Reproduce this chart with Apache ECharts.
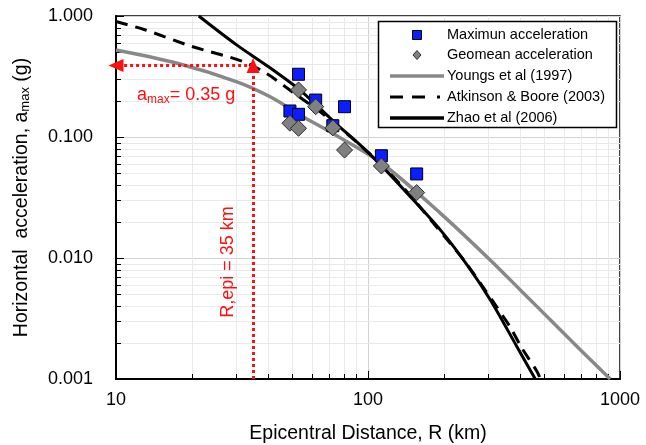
<!DOCTYPE html>
<html><head><meta charset="utf-8">
<script src="https://cdn.jsdelivr.net/npm/echarts@6/dist/echarts.min.js"></script>
<style>html,body{margin:0;padding:0;background:#fff}#c{width:646px;height:445px}</style>
</head><body><div id="c"></div>
<script>
// ---- data ----
const stationR = [49, 53, 53, 62, 72.5, 80.7, 113, 156];
const maxAcc   = [0.164, 0.330, 0.154, 0.202, 0.124, 0.178, 0.070, 0.0495];
const geoAcc   = [0.130, 0.245, 0.118, 0.178, 0.119, 0.078, 0.0576, 0.0347];

const youngsR = [10, 17.5, 30.2, 40.9, 55.3, 68.7, 113, 194, 306, 403, 530, 697, 914];
const youngsA = [0.524, 0.407, 0.286, 0.215, 0.147, 0.114, 0.061, 0.0234, 0.0096, 0.00542, 0.00307, 0.00174, 0.001];

const abR = [10, 13, 20, 32, 40, 47, 55, 65, 75, 93, 113, 140, 212, 243, 279, 320, 366, 408, 469, 483];
const abA = [0.90, 0.77, 0.56, 0.42, 0.33, 0.26, 0.205, 0.16, 0.125, 0.086, 0.059, 0.037, 0.0132, 0.0093, 0.0062, 0.0041, 0.0027, 0.0018, 0.00115, 0.001];

const zhaoR = [21.3, 30, 40, 53, 63, 75, 93, 113, 140, 194, 250, 306, 390, 461];
const zhaoA = [1.0, 0.58, 0.385, 0.25, 0.18, 0.128, 0.086, 0.058, 0.036, 0.017, 0.0085, 0.0045, 0.00185, 0.001];

const xTicks = [10, 100, 1000];
const yTickLabels = ['0.001', '0.010', '0.100', '1.000'];
const minorX = [20,30,40,50,60,70,80,90,200,300,400,500,600,700,800,900];
const minorY = [0.002,0.003,0.004,0.005,0.006,0.007,0.008,0.009,0.02,0.03,0.04,0.05,0.06,0.07,0.08,0.09,0.2,0.3,0.4,0.5,0.6,0.7,0.8,0.9];

const rEpi = 35;      // km
const amaxMark = 0.39; // level of the red horizontal arrow as drawn

const legendNames = ['Maximun acceleration', 'Geomean acceleration', 'Youngs et al (1997)', 'Atkinson & Boore (2003)', 'Zhao et al (2006)'];

// ---- chart ----
const FONT = 'Liberation Sans, Arial, sans-serif';
const chart = echarts.init(document.getElementById('c'), null, {renderer: 'canvas'});
const zip = (a, b) => a.map((v, i) => [v, b[i]]);

function minorRender(isX) {
  return function (params, api) {
    const cs = params.coordSys;
    const v = api.value(0);
    let children;
    if (isX) {
      const p = api.coord([v, 0.01]);
      const x = Math.round(p[0]) + 0.5;
      children = [
        {type: 'line', shape: {x1: x, y1: cs.y, x2: x, y2: cs.y + cs.height}, style: {stroke: '#e9e9e9', lineWidth: 1}},
        {type: 'line', shape: {x1: x, y1: cs.y + cs.height, x2: x, y2: cs.y + cs.height - 5}, style: {stroke: '#000', lineWidth: 1}}
      ];
    } else {
      const p = api.coord([100, v]);
      const y = Math.round(p[1]) + 0.5;
      children = [
        {type: 'line', shape: {x1: cs.x, y1: y, x2: cs.x + cs.width, y2: y}, style: {stroke: '#e9e9e9', lineWidth: 1}},
        {type: 'line', shape: {x1: cs.x, y1: y, x2: cs.x + 5, y2: y}, style: {stroke: '#000', lineWidth: 1}}
      ];
    }
    return {type: 'group', children};
  };
}

const LZ = 100;
const legendText = (i, y) => ({type: 'text', z: LZ + 1, x: 447, y: y,
  style: {text: legendNames[i], fontFamily: FONT, fontSize: 14.5, fill: '#000', verticalAlign: 'middle'}});

const option = {
  animation: false,
  backgroundColor: '#fff',
  grid: {left: 116, right: 26, top: 16, bottom: 66, outerBoundsMode: 'none', containLabel: false,
    show: true, borderColor: '#000', borderWidth: 1.5, backgroundColor: 'transparent'},
  xAxis: {
    type: 'log', logBase: 10, min: xTicks[0], max: xTicks[xTicks.length - 1],
    name: 'Epicentral Distance, R (km)', nameLocation: 'middle', nameGap: 45,
    nameTextStyle: {fontFamily: FONT, fontSize: 19.5, color: '#000'},
    axisLine: {show: true, lineStyle: {color: '#000', width: 2}},
    axisTick: {show: true, inside: true, length: 8, lineStyle: {color: '#000'}},
    axisLabel: {fontFamily: FONT, fontSize: 18, color: '#000', margin: 12, formatter: v => String(Math.round(v))},
    splitLine: {show: true, lineStyle: {color: '#d2d2d2', width: 1}}
  },
  yAxis: {
    type: 'log', logBase: 10, min: 0.001, max: 1,
    name: 'Horizontal  acceleration, a{s|max} (g)', nameLocation: 'middle', nameGap: 84, nameRotate: 90,
    nameTextStyle: {fontFamily: FONT, fontSize: 19.5, color: '#000', rich: {s: {fontFamily: FONT, fontSize: 13, color: '#000', padding: [8, 0, 0, 0]}}},
    axisLine: {show: true, lineStyle: {color: '#000', width: 2}},
    axisTick: {show: true, inside: true, length: 8, lineStyle: {color: '#000'}},
    axisLabel: {fontFamily: FONT, fontSize: 18, color: '#000', margin: 23,
      formatter: v => yTickLabels[Math.round(Math.log10(v)) + 3]},
    splitLine: {show: true, lineStyle: {color: '#d2d2d2', width: 1}}
  },
  series: [
    {type: 'custom', name: 'minorX', data: minorX.map(v => [v]), renderItem: minorRender(true), z: 1, silent: true},
    {type: 'custom', name: 'minorY', data: minorY.map(v => [v]), renderItem: minorRender(false), z: 1, silent: true},
    {type: 'line', name: legendNames[2], data: zip(youngsR, youngsA), showSymbol: false, symbol: 'none', smooth: 0.3,
      lineStyle: {color: '#888888', width: 3.5}, z: 3},
    {type: 'line', name: legendNames[3], data: zip(abR, abA), showSymbol: false, symbol: 'none', smooth: 0.3,
      lineStyle: {color: '#000', width: 3, type: [12, 8]}, z: 3},
    {type: 'line', name: legendNames[4], data: zip(zhaoR, zhaoA), showSymbol: false, symbol: 'none', smooth: 0.3,
      lineStyle: {color: '#000', width: 3}, z: 3,
      markLine: {
        silent: true, animation: false,
        symbol: ['none', 'triangle'], symbolSize: [13, 15],
        label: {show: false},
        lineStyle: {color: '#ff1010', width: 3, type: [3, 3]},
        data: [
          [{coord: [rEpi, 0.001]}, {coord: [rEpi, amaxMark]}],
          [{coord: [rEpi, amaxMark]}, {coord: [10, amaxMark]}]
        ]
      }},
    {type: 'scatter', name: legendNames[0], data: zip(stationR, maxAcc), symbol: 'rect', symbolSize: 12,
      itemStyle: {color: '#0a1eff', borderColor: '#000', borderWidth: 1, opacity: 1}, z: 5},
    {type: 'scatter', name: legendNames[1], data: zip(stationR, geoAcc), symbol: 'diamond', symbolSize: 16,
      itemStyle: {color: '#808080', borderColor: '#2a2a2a', borderWidth: 1, opacity: 1}, z: 6}
  ],
  graphic: [
    // annotations
    {type: 'text', x: 137, y: 95, z: 50,
      style: {text: '{a|a}{s|max}{a|= 0.35 g}', fill: '#ff1010', verticalAlign: 'middle', align: 'left',
        rich: {a: {fontFamily: FONT, fontSize: 18, fill: '#ff1010'}, s: {fontFamily: FONT, fontSize: 12, fill: '#ff1010', padding: [9, 0, 0, 0]}}}},
    {type: 'text', x: 228, y: 262, rotation: Math.PI / 2, z: 50,
      style: {text: 'R,epi = 35 km', fontFamily: FONT, fontSize: 18, fill: '#ff1010', align: 'center', verticalAlign: 'middle'}},
    // legend
    {type: 'rect', z: LZ, shape: {x: 378.5, y: 21.5, width: 238, height: 106}, style: {fill: '#fff', stroke: '#000', lineWidth: 1.5}},
    {type: 'rect', z: LZ + 1, shape: {x: 412.5, y: 30.5, width: 9, height: 9}, style: {fill: '#0a1eff', stroke: '#000', lineWidth: 1}},
    {type: 'polygon', z: LZ + 1, shape: {points: [[417, 50.5], [421, 55], [417, 59.5], [413, 55]]}, style: {fill: '#808080', stroke: '#2a2a2a', lineWidth: 1}},
    {type: 'line', z: LZ + 1, shape: {x1: 390, y1: 76, x2: 444, y2: 76}, style: {stroke: '#888888', lineWidth: 3.5}},
    {type: 'line', z: LZ + 1, shape: {x1: 390, y1: 97, x2: 403, y2: 97}, style: {stroke: '#000', lineWidth: 3}},
    {type: 'line', z: LZ + 1, shape: {x1: 412, y1: 97, x2: 425, y2: 97}, style: {stroke: '#000', lineWidth: 3}},
    {type: 'line', z: LZ + 1, shape: {x1: 437, y1: 97, x2: 440, y2: 97}, style: {stroke: '#000', lineWidth: 3}},
    {type: 'line', z: LZ + 1, shape: {x1: 390, y1: 118, x2: 444, y2: 118}, style: {stroke: '#000', lineWidth: 3.5}},
    legendText(0, 34.5), legendText(1, 55), legendText(2, 76), legendText(3, 97), legendText(4, 118)
  ]
};
chart.setOption(option);
</script>
</body></html>
